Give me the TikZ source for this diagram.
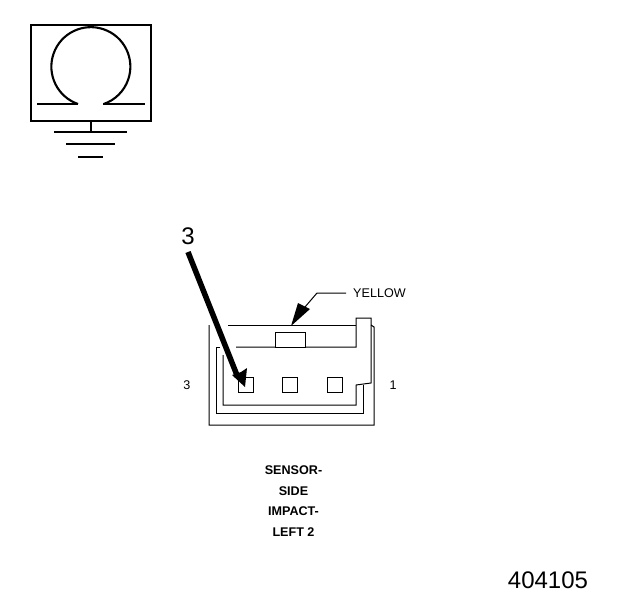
\documentclass[tikz,border=0pt]{standalone}
\usepackage{fontspec}
\setmainfont{Liberation Sans}
\tikzset{
  frameline/.style={line width=2.1pt},
  thin wall/.style={line width=1pt},
  labeltext/.style={font=\fontsize{12.6}{14}\selectfont\bfseries,inner sep=0pt,anchor=center},
  smalltext/.style={font=\fontsize{12.6}{14}\selectfont,inner sep=0pt,anchor=center},
  bigtext/.style={font=\fontsize{24}{26}\selectfont,inner sep=0pt,anchor=center},
  pin/.style={draw=black,line width=1pt,fill=white,inner sep=0pt,minimum width=15pt,minimum height=15pt}
}
\begin{document}
\begin{tikzpicture}[x=1pt,y=-1pt]
\useasboundingbox (0,0) rectangle (624,600);
\fill[white] (0,0) rectangle (624,600);
% ground symbol
\node[draw=black,frameline,inner sep=0pt,minimum width=120.5pt,minimum height=96pt] (frame) at (91,73) {};
\coordinate (omegaL) at (78,104);
\coordinate (omegaR) at (103,104);
\draw[frameline] (omegaL) arc[start angle=-109,end angle=-431,radius=39.5pt];
\draw[frameline] (37,104) -- (omegaL);
\draw[frameline] (omegaR) -- (145,104);
\coordinate (gnd) at (91,132);
\draw[frameline] (frame.south) -- (gnd);
\draw[frameline] (54,132) -- (127,132);
\draw[frameline] (66,144) -- (115,144);
\draw[frameline] (78,157) -- (103,157);
% connector outline
\draw[thin wall] (209,325) -- (209,425) -- (374,425) -- (374,327) -- (371,325);
\draw[thin wall] (228,325) -- (356,325);
\draw[thin wall] (236,347) -- (356,347) -- (356,318) -- (371,318) -- (371,383) -- (356,385) -- (356,405) -- (223,405) -- (223,355);
\draw[thin wall] (363,385) -- (363,413) -- (216,413) -- (216,347) -- (220,347);
\node[pin,minimum width=30pt] (latch) at (290,339.5) {};
\node[pin] (p3) at (245.5,384.5) {};
\node[pin] (p2) at (290,384.5) {};
\node[pin] (p1) at (334.5,384.5) {};
% callout arrows
\node[bigtext] (num) at (188,236) {3};
\coordinate (numEnd) at (188,252);
\fill (241,372) -- (232,375) -- (245,387) -- (247,368) -- cycle;
\draw[line width=5.5pt] (numEnd) -- (p3.north west);
\node[smalltext] (yellow) at (379.5,293) {YELLOW};
\coordinate (bend) at (317,293);
\coordinate (ytip) at (291,326);
\draw[line width=1pt] (yellow.west) ++(-7,0) -- (bend) -- (305,307);
\fill (ytip) -- (298,303) -- (310,309) -- cycle;
% texts
\node[smalltext] (pinthree) at (187,385) {3};
\node[smalltext] (pinone) at (393,385) {1};
\node[labeltext] (l1) at (293.5,470) {SENSOR-};
\node[labeltext] (l2) at (293.5,491) {SIDE};
\node[labeltext] (l3) at (293.5,511) {IMPACT-};
\node[labeltext] (l4) at (293.5,532) {LEFT 2};
\node[bigtext] (code) at (548,580) {404105};
\end{tikzpicture}
\end{document}
